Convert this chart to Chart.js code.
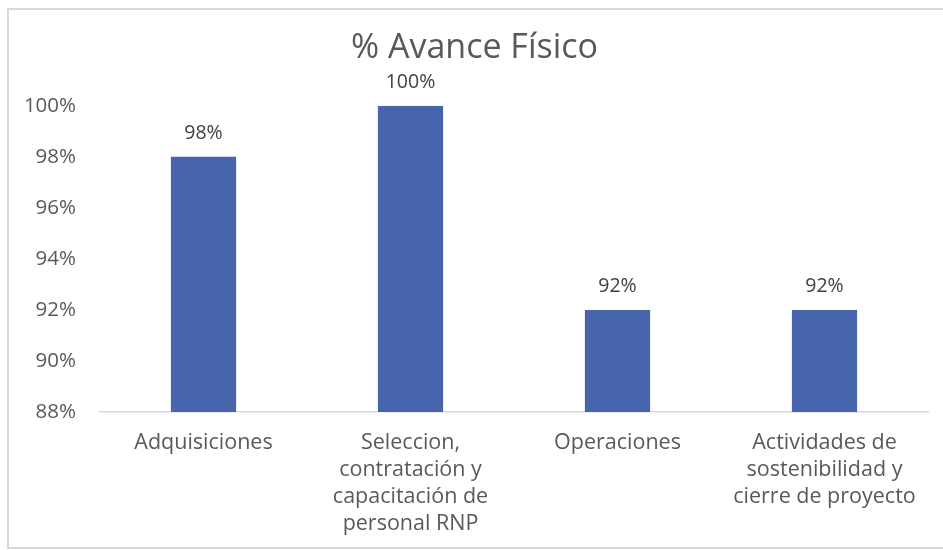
<!DOCTYPE html>
<html>
<head>
<meta charset="utf-8">
<script src="https://cdn.jsdelivr.net/npm/chart.js@4"></script>
<style>
  html, body { margin: 0; padding: 0; background: #fff; overflow: hidden; }
  #wrap { position: relative; width: 943px; height: 550px; overflow: hidden; }
  #frame {
    position: absolute; left: 7px; top: 8px; width: 936px; height: 537px;
    border: 2px solid #d9d9d9; border-right: none; pointer-events: none;
  }
</style>
</head>
<body>
<div id="wrap">
  <canvas id="avanceChart" width="943" height="550"></canvas>
  <div id="frame"></div>
</div>
<script>
    // Datos del grafico
    const categorias = [
        'Adquisiciones',
        ['Seleccion,', 'contratación y', 'capacitación de', 'personal RNP'],
        'Operaciones',
        ['Actividades de', 'sostenibilidad y', 'cierre de proyecto']
    ];
    const avanceFisico = [98, 100, 92, 92];
    const ticksY = [88, 90, 92, 94, 96, 98, 100];

    const fuente = "'Open Sans', sans-serif";

    // Etiquetas de valor encima de cada barra
    const etiquetasValor = {
        id: 'etiquetasValor',
        afterDatasetsDraw(chart) {
            const ctx = chart.ctx;
            const meta = chart.getDatasetMeta(0);
            ctx.save();
            ctx.fillStyle = '#404040';
            ctx.font = '19.5px ' + fuente;
            ctx.textAlign = 'center';
            ctx.textBaseline = 'bottom';
            meta.data.forEach((bar, i) => {
                ctx.fillText(avanceFisico[i] + '%', bar.x, bar.y - 14);
            });
            ctx.restore();
        }
    };

    const config = {
        type: 'bar',
        data: {
            labels: categorias,
            datasets: [{
                label: '% Avance Físico',
                data: avanceFisico,
                backgroundColor: '#4864ad',
                borderWidth: 0,
                barPercentage: 0.315,
                categoryPercentage: 1
            }]
        },
        options: {
            responsive: false,
            animation: false,
            layout: { padding: { left: 21, right: 15, top: 0, bottom: 0 } },
            plugins: {
                legend: { display: false },
                tooltip: { enabled: false },
                title: {
                    display: true,
                    text: '% Avance Físico',
                    color: '#595959',
                    font: { family: fuente, size: 34, weight: 'normal' },
                    padding: { top: 28, bottom: 37 }
                }
            },
            scales: {
                y: {
                    min: 88,
                    max: 100,
                    afterBuildTicks: (scale) => {
                        scale.ticks = ticksY.map(v => ({ value: v }));
                    },
                    afterFit: (scale) => { scale.width = 79; },
                    grid: { display: false },
                    border: { display: false },
                    ticks: {
                        color: '#595959',
                        padding: 16,
                        font: { family: fuente, size: 20.5 },
                        callback: (v) => v + '%'
                    }
                },
                x: {
                    afterFit: (scale) => { scale.height = 138; },
                    grid: { display: false },
                    border: { display: true, color: '#d9d9d9', width: 1.5 },
                    ticks: {
                        color: '#595959',
                        padding: 9,
                        maxRotation: 0,
                        autoSkip: false,
                        font: { family: fuente, size: 21.5, lineHeight: 1.26 }
                    }
                }
            }
        },
        plugins: [etiquetasValor]
    };

    const ctx = document.getElementById('avanceChart').getContext('2d');
    const avanceChart = new Chart(ctx, config);
</script>
</body>
</html>
